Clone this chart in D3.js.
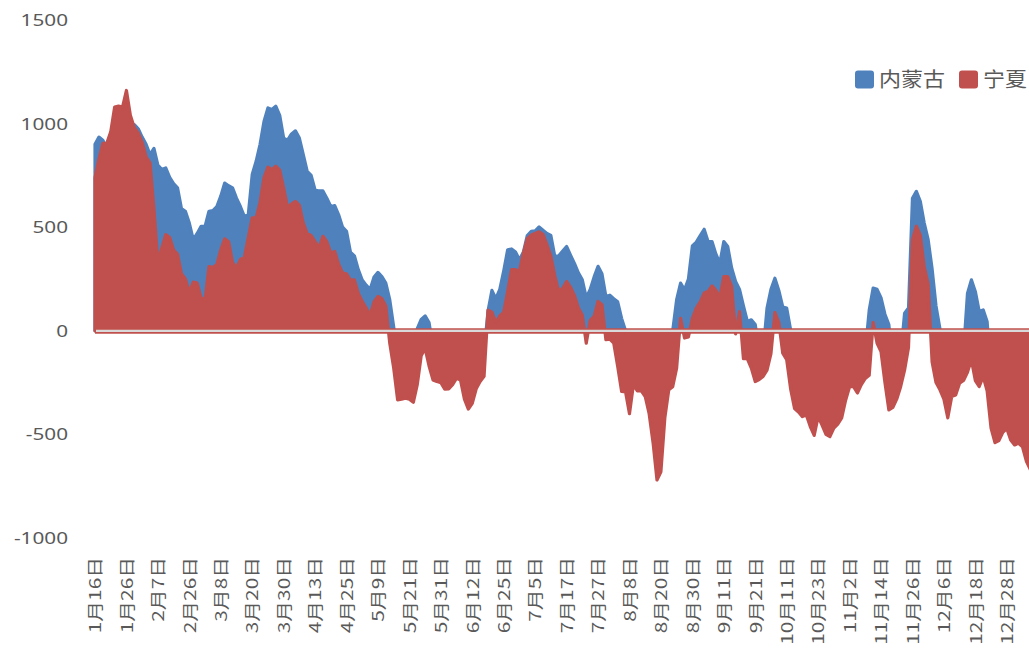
<!DOCTYPE html>
<html><head><meta charset="utf-8">
<script src="https://cdn.jsdelivr.net/npm/d3@7"></script>
<style>body{margin:0;background:#fff;}svg{display:block;}</style>
</head><body>
<svg id="chart" width="1029" height="651"></svg>
<script>
// ---- data ----
const seriesNames = ["内蒙古", "宁夏"];
const seriesColors = ["#4F81BD", "#C0504D"];
const tickLabels = ["1月16日","1月26日","2月7日","2月26日","3月8日","3月20日","3月30日","4月13日","4月25日","5月9日",
  "5月21日","5月31日","6月12日","6月25日","7月5日","7月17日","7月27日","8月8日","8月20日","8月30日",
  "9月11日","9月21日","10月11日","10月23日","11月2日","11月14日","11月26日","12月6日","12月18日","12月28日"];
const tickEvery = 8;
const yTicks = [1500, 1000, 500, 0, -500, -1000];

const neimenggu = [
  900,935,920,880,920,980,1000,1000,990,995,
  995,975,935,900,850,880,800,778,786,740,
  710,690,590,577,520,440,470,504,504,577,
  580,600,650,713,700,690,640,600,552,560,
  754,818,900,1010,1076,1068,1084,1040,930,920,
  950,965,930,850,770,750,680,675,675,640,
  600,604,560,500,480,380,362,295,245,220,
  200,260,282,262,230,150,20,-150,-160,-140,
  -150,-100,10,55,72,40,-80,-100,-120,-130,
  -120,-110,-100,-110,-150,-170,-160,-130,-110,-100,
  95,195,155,200,290,391,395,380,343,380,
  460,480,482,501,485,470,460,360,362,385,
  407,365,325,280,246,160,200,260,311,275,
  166,172,155,140,60,0,-180,-120,-130,-140,
  -150,-180,-250,-330,-300,-200,-130,0,150,230,
  198,250,410,428,460,490,431,431,370,327,
  431,407,303,238,200,120,45,53,30,-100,
  -100,110,200,254,195,115,110,5,-170,-180,
  -190,-190,-210,-230,-190,-210,-230,-230,-210,-200,
  -190,-150,-120,-120,-130,-120,-100,100,206,200,
  160,80,30,-160,-150,-120,85,110,640,673,
  625,520,440,300,120,10,-150,-190,-140,-140,
  -110,-100,180,246,190,93,101,45,-210,-240,
  -240,-220,-210,-240,-250,-240,-250,-280,-300
];
const ningxia = [
  740,830,905,905,960,1080,1085,1080,1160,1040,
  980,955,910,840,810,590,330,400,464,450,
  390,370,275,250,185,235,230,160,150,310,
  305,320,390,444,430,330,303,345,355,450,
  545,545,620,740,790,778,795,775,690,595,
  612,625,605,520,468,460,430,400,456,430,
  375,383,320,279,275,245,246,180,142,110,
  75,140,166,155,120,-60,-180,-333,-330,-325,
  -330,-345,-260,-120,-85,-170,-237,-245,-250,-282,
  -280,-260,-229,-237,-330,-378,-350,-280,-245,-220,
  100,90,40,72,90,190,295,295,287,375,
  445,462,470,478,466,415,360,265,190,205,
  238,210,170,110,75,-60,50,69,142,126,
  -43,-40,-60,-172,-293,-295,-400,-260,-290,-290,
  -317,-400,-540,-720,-680,-420,-285,-270,-180,60,
  -35,-30,60,110,140,182,190,217,195,160,
  262,262,214,-15,93,-135,-135,-180,-245,-235,
  -220,-190,-110,88,40,-108,-140,-280,-375,-392,
  -414,-406,-462,-505,-414,-455,-500,-511,-470,-450,
  -420,-335,-270,-270,-300,-260,-230,-215,40,-60,
  -100,-250,-382,-370,-330,-270,-190,-80,440,505,
  460,310,225,-150,-250,-285,-330,-420,-317,-310,
  -253,-240,-200,-140,-240,-269,-221,-290,-470,-540,
  -530,-490,-472,-527,-551,-543,-560,-630,-670
];

// ---- chart ----
const svg = d3.select("#chart");
const N = ningxia.length;
const x = d3.scaleLinear().domain([0, N - 1]).range([95, 95 + (N - 1) * 3.93]);
const y = d3.scaleLinear().domain([-1000, 1500]).range([538, 20]);
const textColor = "#595959";

const area = d3.area()
  .x((d, i) => x(i))
  .y0(y(0))
  .y1(d => y(d));

[neimenggu, ningxia].forEach((s, k) => {
  svg.append("path")
    .datum(s)
    .attr("d", area)
    .attr("fill", seriesColors[k])
    .attr("stroke", seriesColors[k])
    .attr("stroke-width", 3.2)
    .attr("stroke-linejoin", "round");
});

// zero line: red band with light grey axis line on top
svg.append("line")
  .attr("x1", x(0)).attr("x2", x(N - 1))
  .attr("y1", y(0) + 0.3).attr("y2", y(0) + 0.3)
  .attr("stroke", seriesColors[1]).attr("stroke-width", 5.5);
svg.append("line")
  .attr("x1", x(0) + 1).attr("x2", x(N - 1))
  .attr("y1", y(0)).attr("y2", y(0))
  .attr("stroke", "#D9D9D9").attr("stroke-width", 2.2);

// y axis
const yAxis = svg.append("g")
  .attr("transform", "translate(79,0)")
  .call(d3.axisLeft(y).tickValues(yTicks).tickSize(0).tickPadding(9)
    .tickFormat(d => String(d)));
yAxis.select(".domain").remove();
yAxis.selectAll("text")
  .attr("fill", textColor)
  .attr("font-family", "'Noto Sans', sans-serif")
  .attr("font-size", 17)
  .attr("transform", "scale(1.22,1)");

// x axis
const tickIdx = tickLabels.map((t, i) => i * tickEvery);
const xAxis = svg.append("g")
  .attr("transform", "translate(0,557)")
  .call(d3.axisBottom(x).tickValues(tickIdx).tickSize(0)
    .tickFormat((d, i) => tickLabels[i]));
xAxis.select(".domain").remove();
xAxis.selectAll("text")
  .attr("fill", textColor)
  .attr("font-family", "'Noto Sans CJK SC', sans-serif")
  .attr("font-size", 16)
  .attr("x", 0).attr("y", 0).attr("dy", "0.36em")
  .attr("text-anchor", "end")
  .attr("transform", "rotate(-90) scale(1.3,1)");

// legend
const legendX = [855, 959];
const lg = svg.append("g");
seriesNames.forEach((name, k) => {
  lg.append("rect")
    .attr("x", legendX[k]).attr("y", 70.5)
    .attr("width", 19).attr("height", 18).attr("rx", 3)
    .attr("fill", seriesColors[k]);
  lg.append("text")
    .attr("transform", `translate(${legendX[k] + 24},87) scale(1.1,1)`)
    .attr("fill", textColor)
    .attr("font-family", "'Noto Sans CJK SC', sans-serif")
    .attr("font-size", 20)
    .text(name);
});
</script>
</body></html>
